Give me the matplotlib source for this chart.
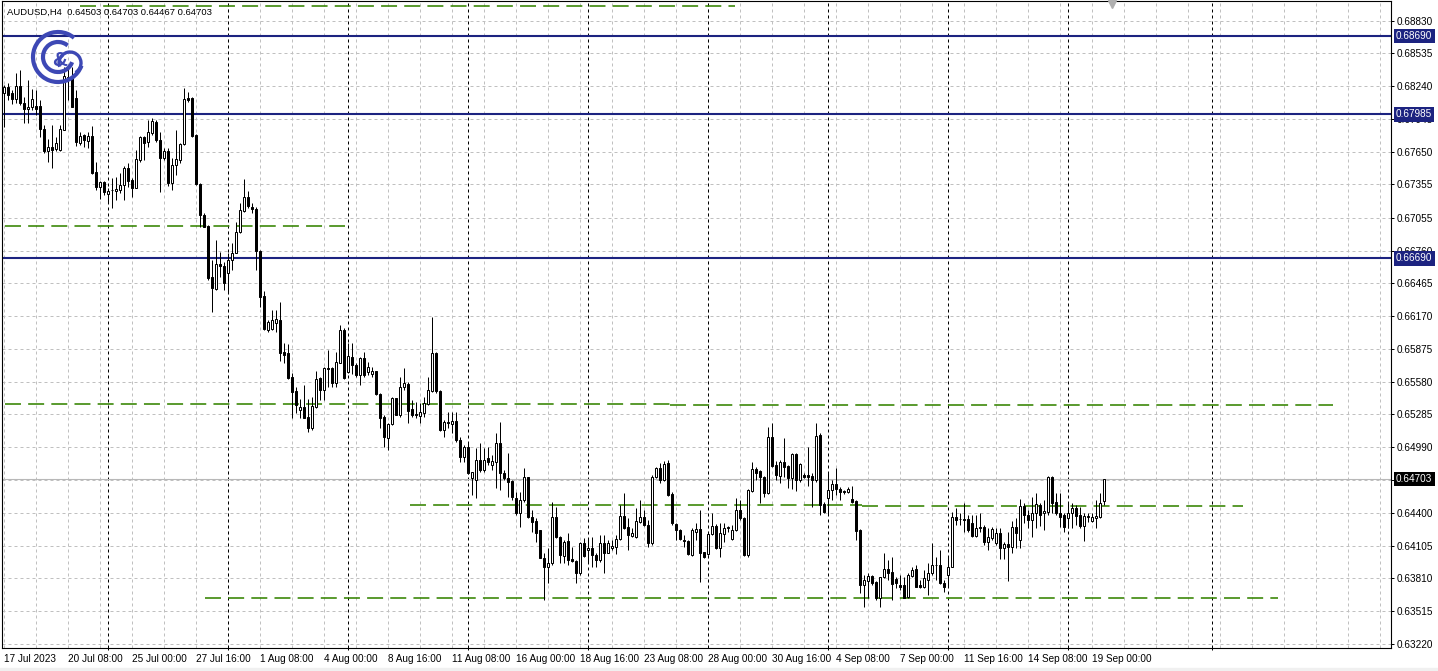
import numpy as np
import matplotlib
matplotlib.use('Agg')
import matplotlib.pyplot as plt
from matplotlib.patches import Arc, Rectangle

plt.rcParams['font.family'] = ['Liberation Sans', 'DejaVu Sans']

# 데이터: AUDUSD H4 (17 Jul 16:00 ~ 19 Sep 12:00)
title = 'AUDUSD,H4  0.64503 0.64703 0.64467 0.64703'

opens = [
    0.68178, 0.68232, 0.68178, 0.68124, 0.68241, 0.68088, 0.68034, 0.68052, 0.68061, 0.68061,
    0.67854, 0.67656, 0.67692, 0.67674, 0.67665, 0.67845, 0.68295, 0.68322, 0.68133, 0.67728,
    0.67800, 0.67746, 0.67791, 0.67467, 0.67332, 0.67377, 0.67269, 0.67305, 0.67296, 0.67305,
    0.67350, 0.67503, 0.67395, 0.67323, 0.67575, 0.67782, 0.67737, 0.67818, 0.67917, 0.67755,
    0.67593, 0.67656, 0.67368, 0.67530, 0.67575, 0.67719, 0.68133, 0.68133, 0.67800, 0.67359,
    0.67080, 0.66981, 0.66522, 0.66414, 0.66639, 0.66621, 0.66558, 0.66675, 0.66738, 0.66927,
    0.67116, 0.67242, 0.67152, 0.67134, 0.66756, 0.66351, 0.66045, 0.66054, 0.66108, 0.66135,
    0.65847, 0.65838, 0.65622, 0.65496, 0.65325, 0.65352, 0.65262, 0.65163, 0.65352, 0.65613,
    0.65505, 0.65703, 0.65703, 0.65568, 0.65748, 0.66045, 0.65667, 0.65802, 0.65730, 0.65640,
    0.65793, 0.65667, 0.65649, 0.65676, 0.65469, 0.65262, 0.65073, 0.65199, 0.65433, 0.65280,
    0.65532, 0.65559, 0.65334, 0.65289, 0.65271, 0.65298, 0.65379, 0.65496, 0.65838, 0.65496,
    0.65145, 0.65217, 0.65199, 0.65226, 0.65055, 0.64902, 0.64992, 0.64713, 0.64695, 0.64875,
    0.64785, 0.64893, 0.64830, 0.64857, 0.65028, 0.64758, 0.64713, 0.64686, 0.64533, 0.64398,
    0.64515, 0.64722, 0.64362, 0.64326, 0.64245, 0.63993, 0.63912, 0.63948, 0.64362, 0.64182,
    0.64011, 0.64146, 0.63984, 0.63966, 0.63858, 0.64128, 0.64065, 0.64083, 0.64020, 0.63975,
    0.64128, 0.64038, 0.64083, 0.64092, 0.64164, 0.64371, 0.64272, 0.64191, 0.64182, 0.64317,
    0.64362, 0.64290, 0.64128, 0.64722, 0.64803, 0.64695, 0.64848, 0.64569, 0.64299, 0.64245,
    0.64155, 0.64146, 0.64020, 0.64227, 0.64254, 0.64047, 0.64029, 0.64209, 0.64281, 0.64083,
    0.64209, 0.64263, 0.64164, 0.64245, 0.64425, 0.64353, 0.64020, 0.64596, 0.64794, 0.64776,
    0.64722, 0.64578, 0.65082, 0.64830, 0.64731, 0.64857, 0.64821, 0.64713, 0.64929, 0.64695,
    0.64740, 0.64740, 0.64731, 0.64695, 0.65100, 0.64479, 0.64533, 0.64605, 0.64659, 0.64614,
    0.64596, 0.64587, 0.64524, 0.64506, 0.64245, 0.63750, 0.63786, 0.63831, 0.63777, 0.63633,
    0.63822, 0.63894, 0.63867, 0.63804, 0.63750, 0.63750, 0.63642, 0.63831, 0.63894, 0.63750,
    0.63732, 0.63795, 0.63858, 0.63930, 0.63930, 0.63768, 0.63840, 0.63912, 0.64362, 0.64344,
    0.64344, 0.64344, 0.64308, 0.64191, 0.64272, 0.64272, 0.64137, 0.64173, 0.64128, 0.64218,
    0.64083, 0.64119, 0.64092, 0.64272, 0.64155, 0.64461, 0.64380, 0.64335, 0.64398, 0.64470,
    0.64398, 0.64407, 0.64722, 0.64497, 0.64398, 0.64380, 0.64353, 0.64398, 0.64443, 0.64380,
    0.64281, 0.64371, 0.64326, 0.64353, 0.64362, 0.64503,
]
highs = [
    0.68250, 0.68268, 0.68205, 0.68358, 0.68385, 0.68142, 0.68295, 0.68214, 0.68205, 0.68115,
    0.67890, 0.67764, 0.67890, 0.67782, 0.67890, 0.68412, 0.68412, 0.68412, 0.68205, 0.67827,
    0.67809, 0.67827, 0.67881, 0.67557, 0.67386, 0.67386, 0.67323, 0.67413, 0.67422, 0.67458,
    0.67521, 0.67548, 0.67413, 0.67665, 0.67791, 0.67791, 0.67935, 0.67953, 0.67935, 0.67827,
    0.67683, 0.67683, 0.67593, 0.67845, 0.67728, 0.68223, 0.68187, 0.68142, 0.67809, 0.67368,
    0.67098, 0.66990, 0.66675, 0.66855, 0.66747, 0.66657, 0.66738, 0.66828, 0.67017, 0.67188,
    0.67404, 0.67296, 0.67188, 0.67152, 0.66765, 0.66396, 0.66135, 0.66225, 0.66225, 0.66297,
    0.65928, 0.65919, 0.65658, 0.65532, 0.65424, 0.65550, 0.65424, 0.65442, 0.65676, 0.65622,
    0.65712, 0.65865, 0.65712, 0.65847, 0.66090, 0.66063, 0.65928, 0.65928, 0.65748, 0.65802,
    0.65847, 0.65757, 0.65712, 0.65676, 0.65478, 0.65280, 0.65208, 0.65442, 0.65433, 0.65622,
    0.65703, 0.65577, 0.65415, 0.65397, 0.65388, 0.65442, 0.65622, 0.66162, 0.65847, 0.65505,
    0.65235, 0.65307, 0.65307, 0.65307, 0.65082, 0.65010, 0.65037, 0.64767, 0.64983, 0.65028,
    0.64983, 0.64992, 0.64920, 0.65118, 0.65217, 0.64785, 0.64938, 0.64695, 0.64587, 0.64587,
    0.64803, 0.64722, 0.64425, 0.64353, 0.64245, 0.64038, 0.64083, 0.64497, 0.64452, 0.64191,
    0.64155, 0.64218, 0.64092, 0.63975, 0.64137, 0.64173, 0.64173, 0.64182, 0.64038, 0.64200,
    0.64200, 0.64155, 0.64155, 0.64200, 0.64470, 0.64578, 0.64353, 0.64263, 0.64443, 0.64515,
    0.64425, 0.64335, 0.64740, 0.64812, 0.64848, 0.64866, 0.64875, 0.64587, 0.64308, 0.64254,
    0.64200, 0.64155, 0.64263, 0.64308, 0.64425, 0.64047, 0.64218, 0.64398, 0.64299, 0.64308,
    0.64308, 0.64281, 0.64290, 0.64533, 0.64515, 0.64362, 0.64614, 0.64857, 0.64812, 0.64785,
    0.64731, 0.65172, 0.65208, 0.64866, 0.64875, 0.65073, 0.64830, 0.64938, 0.64938, 0.64848,
    0.64758, 0.64992, 0.64758, 0.65208, 0.65118, 0.64497, 0.64758, 0.64695, 0.64803, 0.64632,
    0.64605, 0.64632, 0.64641, 0.64515, 0.64254, 0.63840, 0.63858, 0.63840, 0.63786, 0.63822,
    0.64038, 0.63975, 0.64002, 0.63822, 0.63840, 0.63822, 0.63858, 0.63912, 0.63930, 0.63795,
    0.63885, 0.63948, 0.64128, 0.64002, 0.64065, 0.63795, 0.64002, 0.64407, 0.64443, 0.64398,
    0.64488, 0.64380, 0.64380, 0.64380, 0.64398, 0.64290, 0.64263, 0.64272, 0.64263, 0.64263,
    0.64137, 0.64227, 0.64326, 0.64353, 0.64524, 0.64488, 0.64425, 0.64542, 0.64578, 0.64488,
    0.64515, 0.64731, 0.64731, 0.64578, 0.64578, 0.64398, 0.64488, 0.64488, 0.64470, 0.64452,
    0.64398, 0.64398, 0.64398, 0.64515, 0.64578, 0.64703,
]
lows = [
    0.67872, 0.68115, 0.68079, 0.68088, 0.68070, 0.67908, 0.67908, 0.68025, 0.67980, 0.67782,
    0.67638, 0.67557, 0.67503, 0.67656, 0.67656, 0.67845, 0.68115, 0.68052, 0.67701, 0.67710,
    0.67692, 0.67683, 0.67449, 0.67305, 0.67224, 0.67260, 0.67188, 0.67143, 0.67215, 0.67278,
    0.67215, 0.67332, 0.67242, 0.67323, 0.67557, 0.67575, 0.67692, 0.67800, 0.67737, 0.67287,
    0.67575, 0.67341, 0.67305, 0.67440, 0.67548, 0.67710, 0.68097, 0.67782, 0.67350, 0.66972,
    0.66972, 0.66495, 0.66207, 0.66405, 0.66522, 0.66405, 0.66378, 0.66585, 0.66738, 0.66918,
    0.67107, 0.67143, 0.67098, 0.66585, 0.66252, 0.66045, 0.66027, 0.66045, 0.66027, 0.65766,
    0.65748, 0.65604, 0.65253, 0.65298, 0.65253, 0.65253, 0.65127, 0.65145, 0.65343, 0.65415,
    0.65415, 0.65532, 0.65532, 0.65532, 0.65748, 0.65604, 0.65658, 0.65649, 0.65622, 0.65550,
    0.65622, 0.65640, 0.65622, 0.65460, 0.65163, 0.64992, 0.64965, 0.65190, 0.65280, 0.65262,
    0.65505, 0.65208, 0.65262, 0.65253, 0.65208, 0.65262, 0.65370, 0.65487, 0.65478, 0.65136,
    0.65082, 0.65163, 0.65118, 0.65037, 0.64857, 0.64857, 0.64749, 0.64560, 0.64533, 0.64767,
    0.64767, 0.64830, 0.64785, 0.64623, 0.64605, 0.64695, 0.64542, 0.64515, 0.64380, 0.64272,
    0.64497, 0.64353, 0.64227, 0.64137, 0.63993, 0.63615, 0.63768, 0.63930, 0.64173, 0.63948,
    0.63948, 0.63930, 0.63957, 0.63768, 0.63840, 0.64002, 0.63948, 0.63912, 0.63912, 0.63957,
    0.63858, 0.64038, 0.64065, 0.64029, 0.64155, 0.64254, 0.64065, 0.64182, 0.64173, 0.64308,
    0.64281, 0.64092, 0.64110, 0.64713, 0.64668, 0.64686, 0.64551, 0.64290, 0.64155, 0.64155,
    0.64092, 0.64020, 0.64011, 0.64155, 0.63777, 0.63993, 0.64020, 0.64200, 0.64074, 0.64002,
    0.64137, 0.64227, 0.64155, 0.64236, 0.64335, 0.64011, 0.64002, 0.64587, 0.64695, 0.64488,
    0.64542, 0.64569, 0.64812, 0.64695, 0.64668, 0.64722, 0.64623, 0.64614, 0.64596, 0.64677,
    0.64713, 0.64641, 0.64452, 0.64677, 0.64380, 0.64398, 0.64380, 0.64515, 0.64560, 0.64515,
    0.64569, 0.64578, 0.64488, 0.64155, 0.63678, 0.63552, 0.63633, 0.63750, 0.63615, 0.63552,
    0.63813, 0.63795, 0.63615, 0.63723, 0.63705, 0.63633, 0.63633, 0.63822, 0.63732, 0.63723,
    0.63723, 0.63660, 0.63840, 0.63795, 0.63759, 0.63687, 0.63732, 0.63912, 0.64290, 0.64290,
    0.64227, 0.64227, 0.64182, 0.64182, 0.64227, 0.64110, 0.64065, 0.64155, 0.64110, 0.63984,
    0.63984, 0.63786, 0.64038, 0.64083, 0.64083, 0.64308, 0.64263, 0.64182, 0.64263, 0.64281,
    0.64245, 0.64380, 0.64398, 0.64380, 0.64272, 0.64227, 0.64263, 0.64263, 0.64290, 0.64263,
    0.64146, 0.64317, 0.64317, 0.64263, 0.64353, 0.64467,
]
closes = [
    0.68232, 0.68160, 0.68124, 0.68241, 0.68088, 0.68034, 0.68052, 0.68124, 0.68034, 0.67854,
    0.67656, 0.67692, 0.67665, 0.67728, 0.67854, 0.68331, 0.68322, 0.68052, 0.67737, 0.67791,
    0.67755, 0.67791, 0.67458, 0.67332, 0.67377, 0.67287, 0.67296, 0.67305, 0.67314, 0.67350,
    0.67503, 0.67386, 0.67323, 0.67584, 0.67782, 0.67728, 0.67827, 0.67926, 0.67755, 0.67593,
    0.67656, 0.67368, 0.67530, 0.67584, 0.67719, 0.68124, 0.68115, 0.67791, 0.67359, 0.67080,
    0.66972, 0.66513, 0.66423, 0.66639, 0.66621, 0.66468, 0.66675, 0.66738, 0.66927, 0.67125,
    0.67242, 0.67161, 0.67134, 0.66756, 0.66342, 0.66054, 0.66117, 0.66135, 0.66144, 0.65838,
    0.65820, 0.65613, 0.65487, 0.65370, 0.65352, 0.65253, 0.65163, 0.65361, 0.65604, 0.65505,
    0.65703, 0.65694, 0.65568, 0.65757, 0.66045, 0.65613, 0.65811, 0.65730, 0.65640, 0.65793,
    0.65640, 0.65712, 0.65676, 0.65469, 0.65253, 0.65082, 0.65199, 0.65433, 0.65280, 0.65532,
    0.65568, 0.65316, 0.65280, 0.65280, 0.65307, 0.65388, 0.65505, 0.65838, 0.65496, 0.65145,
    0.65217, 0.65208, 0.65226, 0.65055, 0.64902, 0.64992, 0.64758, 0.64767, 0.64875, 0.64785,
    0.64875, 0.64857, 0.64866, 0.65028, 0.64758, 0.64713, 0.64677, 0.64542, 0.64398, 0.64515,
    0.64722, 0.64362, 0.64317, 0.64218, 0.63993, 0.63912, 0.63948, 0.64362, 0.64182, 0.64020,
    0.64137, 0.63975, 0.63966, 0.63858, 0.64128, 0.64011, 0.64083, 0.64020, 0.63975, 0.64128,
    0.64038, 0.64128, 0.64101, 0.64164, 0.64371, 0.64263, 0.64200, 0.64218, 0.64326, 0.64362,
    0.64290, 0.64128, 0.64722, 0.64803, 0.64695, 0.64839, 0.64560, 0.64308, 0.64245, 0.64164,
    0.64146, 0.64029, 0.64245, 0.64254, 0.64038, 0.64002, 0.64209, 0.64281, 0.64083, 0.64218,
    0.64263, 0.64272, 0.64245, 0.64425, 0.64353, 0.64020, 0.64605, 0.64794, 0.64758, 0.64722,
    0.64578, 0.65082, 0.64821, 0.64740, 0.64857, 0.64812, 0.64713, 0.64929, 0.64695, 0.64839,
    0.64722, 0.64722, 0.64695, 0.65091, 0.64470, 0.64407, 0.64605, 0.64659, 0.64614, 0.64587,
    0.64587, 0.64614, 0.64497, 0.64236, 0.63750, 0.63795, 0.63831, 0.63768, 0.63633, 0.63822,
    0.63894, 0.63858, 0.63759, 0.63768, 0.63732, 0.63633, 0.63840, 0.63885, 0.63732, 0.63732,
    0.63813, 0.63858, 0.63930, 0.63930, 0.63768, 0.63732, 0.63912, 0.64362, 0.64335, 0.64344,
    0.64335, 0.64245, 0.64191, 0.64263, 0.64263, 0.64137, 0.64182, 0.64254, 0.64218, 0.64083,
    0.64119, 0.64092, 0.64272, 0.64218, 0.64461, 0.64380, 0.64335, 0.64398, 0.64479, 0.64380,
    0.64416, 0.64722, 0.64488, 0.64398, 0.64362, 0.64272, 0.64398, 0.64443, 0.64371, 0.64281,
    0.64371, 0.64362, 0.64362, 0.64371, 0.64488, 0.64703,
]

# 시간축 이름표 (16봉마다 하나)
time_labels = ['17 Jul 2023', '20 Jul 08:00', '25 Jul 00:00', '27 Jul 16:00', '1 Aug 08:00',
               '4 Aug 00:00', '8 Aug 16:00', '11 Aug 08:00', '16 Aug 00:00', '18 Aug 16:00',
               '23 Aug 08:00', '28 Aug 00:00', '30 Aug 16:00', '4 Sep 08:00', '7 Sep 00:00',
               '11 Sep 16:00', '14 Sep 08:00', '19 Sep 00:00']
label_step = 16
# 주간 구분선 (봉 번호)
week_starts = [26, 56, 86, 116, 146, 176, 206, 236, 266, 302]

price_ticks = [0.68830, 0.68535, 0.68240, 0.67945, 0.67650, 0.67355, 0.67055, 0.66760,
               0.66465, 0.66170, 0.65875, 0.65580, 0.65285, 0.64990, 0.64695, 0.64400,
               0.64105, 0.63810, 0.63515, 0.63220]

# 수평선 (파란 실선), 녹색 점선 구간: (가격, 시작봉, 끝봉)
blue_levels = [0.68690, 0.67985, 0.66690]
green_levels = [(0.68961, 19, 182.75), (0.66981, 0.25, 85.25), (0.65379, 0.25, 166.5),
                (0.65370, 166.5, 332.25), (0.64470, 101.5, 214.5), (0.64461, 214.5, 309.75),
                (0.63633, 50.25, 318.5)]

navy = '#1c2380'
green = '#348300'
grid_gray = '#c0c0c0'

O = np.array(opens); H = np.array(highs); L = np.array(lows); C = np.array(closes)
idx = np.arange(len(C))
up = C >= O

fig = plt.figure(figsize=(14.38, 6.71), dpi=100)
ax = fig.add_axes([2 / 1438, 23 / 671, 1389 / 1438, 647 / 671])
ax.set_xlim(-0.5, 346.75)
ax.set_ylim(0.63183, 0.69006)

# 격자
for g in range(0, 345, 8):
    ax.axvline(g, color=grid_gray, lw=0.72, ls=(0, (3, 3)), zorder=0)
for p in price_ticks:
    ax.axhline(p, color=grid_gray, lw=0.72, ls=(0, (3, 3)), zorder=0)
for w in week_starts:
    ax.axvline(w, color='black', lw=0.72, ls=(0, (3, 3)), zorder=1)

# 현재가 선
ax.axhline(C[-1], color='#b8b8b8', lw=0.8, zorder=1)

for p in blue_levels:
    ax.axhline(p, color=navy, lw=1.5, zorder=2)
for p, s, e in green_levels:
    ax.hlines(p, s, e, color=green, lw=1.15, ls=(0, (10, 4.5)), zorder=2)

# 캔들
ax.vlines(idx, L, H, color='black', lw=0.72, zorder=3)
ax.bar(idx[up], (C - O)[up], bottom=O[up], width=0.55, color='white',
       edgecolor='black', lw=0.72, zorder=4)
ax.bar(idx[~up], (O - C)[~up], bottom=C[~up], width=0.55, color='black',
       edgecolor='black', lw=0.72, zorder=4)

# 축 설정
for sp in ax.spines.values():
    sp.set_color('black')
    sp.set_linewidth(0.8)
ax.yaxis.tick_right()
ax.set_yticks(price_ticks)
ax.set_yticklabels([f'{p:.5f}' for p in price_ticks])
ax.tick_params(axis='y', length=2.2, width=0.72, pad=1.5, labelsize=7.2,
               direction='out', left=False, right=True)
ax.set_xticks([k * label_step for k in range(len(time_labels))])
ax.set_xticklabels(time_labels)
for t in ax.get_xticklabels():
    t.set_ha('left')
ax.tick_params(axis='x', length=0, pad=4, labelsize=7.2)
ax.set_xticks(week_starts, minor=True)
ax.tick_params(axis='x', which='minor', length=2.5, width=0.72, direction='inout')

# 가격 이름표 상자
for p in blue_levels:
    ax.annotate(f'{p:.5f}', xy=(1, p), xycoords=('axes fraction', 'data'),
                xytext=(3.6, 0), textcoords='offset points', ha='left', va='center',
                fontsize=7.2, color='white', annotation_clip=False, zorder=6,
                bbox=dict(boxstyle='square,pad=0.22', fc=navy, ec='none'))
ax.annotate(f'{C[-1]:.5f}', xy=(1, C[-1]), xycoords=('axes fraction', 'data'),
            xytext=(3.6, 0), textcoords='offset points', ha='left', va='center',
            fontsize=7.2, color='white', annotation_clip=False, zorder=6,
            bbox=dict(boxstyle='square,pad=0.22', fc='black', ec='none'))

# 픽셀 좌표 덮개 (제목, 로고)
ov = fig.add_axes([0, 0, 1, 1], zorder=10)
ov.set_xlim(0, 1438)
ov.set_ylim(671, 0)
ov.axis('off')
ov.patch.set_alpha(0)
ov.text(7, 12, title, fontsize=6.8, ha='left', va='center', color='black')
logo_blue = '#3d48b5'
ov.add_patch(Arc((58, 57), 50, 50, theta1=20, theta2=310, color=logo_blue, lw=3))
ov.add_patch(Arc((58, 57), 30, 30, theta1=20, theta2=310, color=logo_blue, lw=3))
ov.add_patch(Arc((70, 63), 22, 22, theta1=-200, theta2=60, color=logo_blue, lw=2.4))
ov.text(60, 61, '&', fontsize=15, fontweight='bold', color=logo_blue, ha='center', va='center')
ov.plot([1112], [4], marker='v', color='#b0b0b0', ms=6)
ov.add_patch(Rectangle((0, 668), 1438, 3, color='#f0f0f0'))

fig.savefig('out.png', dpi=100)
